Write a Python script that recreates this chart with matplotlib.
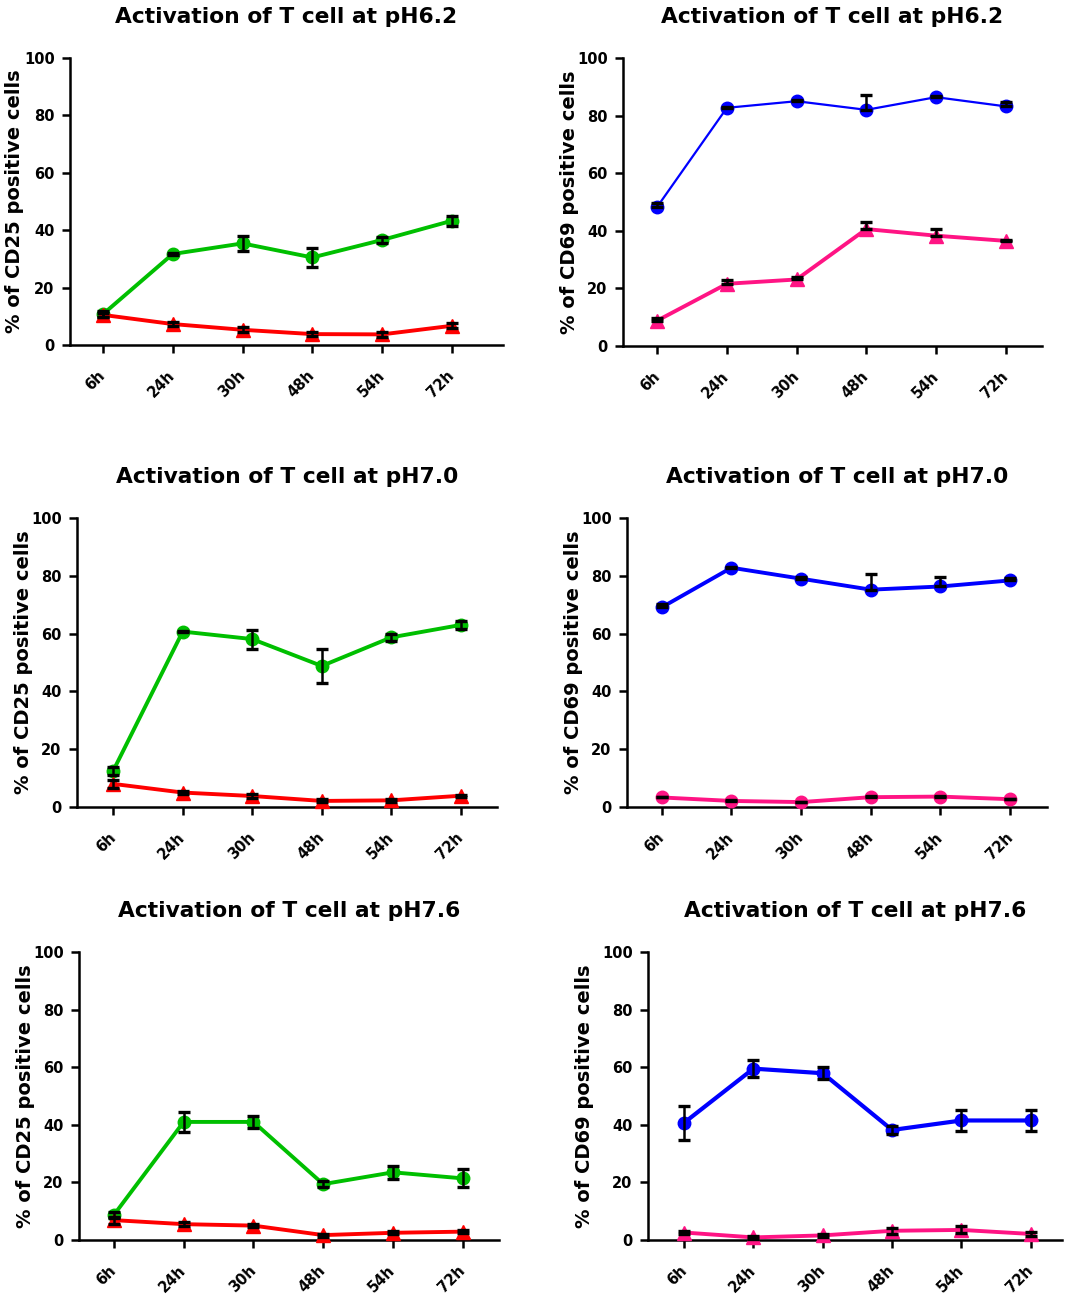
import matplotlib
matplotlib.use("Agg")
import matplotlib.pyplot as plt
from matplotlib.transforms import ScaledTranslation

plt.rcParams['font.family'] = ['DejaVu Sans']
plt.rcParams['font.weight'] = 'bold'

timepoints = ['6h', '24h', '30h', '48h', '54h', '72h']

# pH 6.2
cd25_62_green = [10.7, 31.7, 35.4, 30.5, 36.6, 43.3]
cd25_62_green_err = [1.0, 0.5, 2.5, 3.2, 1.2, 1.8]
cd25_62_red = [10.5, 7.3, 5.3, 3.8, 3.7, 6.7]
cd25_62_red_err = [0.8, 0.8, 0.8, 0.7, 0.8, 0.9]

cd69_62_blue = [48.3, 82.7, 85.0, 82.0, 86.4, 83.2]
cd69_62_blue_err = [1.2, 0.4, 0.3, 5.2, 0.4, 1.4]
cd69_62_pink = [8.8, 21.6, 23.1, 40.6, 38.3, 36.5]
cd69_62_pink_err = [1.0, 1.2, 0.9, 2.4, 2.4, 0.4]

# pH 7.0
cd25_70_green = [12.5, 60.7, 58.1, 48.8, 58.7, 63.0]
cd25_70_green_err = [1.3, 0.3, 3.3, 6.0, 1.2, 1.4]
cd25_70_red = [8.0, 5.0, 3.8, 2.1, 2.3, 3.9]
cd25_70_red_err = [1.3, 0.6, 0.8, 0.5, 0.4, 0.4]

cd69_70_blue = [69.1, 82.8, 79.0, 75.2, 76.3, 78.4]
cd69_70_blue_err = [1.2, 0.3, 0.5, 5.5, 3.2, 0.8]
cd69_70_pink = [3.3, 2.1, 1.7, 3.4, 3.6, 2.7]
cd69_70_pink_err = [0.3, 0.2, 0.2, 0.5, 0.2, 0.2]

# pH 7.6
cd25_76_green = [8.7, 41.0, 41.0, 19.4, 23.5, 21.4]
cd25_76_green_err = [1.0, 3.6, 2.1, 1.1, 2.2, 3.1]
cd25_76_red = [6.9, 5.5, 5.0, 1.7, 2.5, 2.9]
cd25_76_red_err = [1.2, 0.6, 0.6, 0.5, 0.5, 0.6]

cd69_76_blue = [40.7, 59.5, 57.9, 38.2, 41.5, 41.5]
cd69_76_blue_err = [6.0, 2.9, 2.0, 1.3, 3.8, 3.8]
cd69_76_pink = [2.6, 0.9, 1.6, 3.2, 3.5, 2.1]
cd69_76_pink_err = [0.6, 0.4, 0.4, 1.0, 1.2, 0.6]

GREEN = '#00BF00'
RED = '#FF0000'
BLUE = '#0000FF'
PINK = '#FF1484'

W, H = 1081, 1296
fig = plt.figure(figsize=(W / 100, H / 100), dpi=100)

# (title, ylabel, series, axes box in px (left, top, right, bottom), xlim, ylabel offset px, one-sided errors)
panels = [
    ("Activation of T cell at pH6.2", "% of CD25 positive cells",
     [(cd25_62_green, cd25_62_green_err, GREEN, 'o', 2.8),
      (cd25_62_red, cd25_62_red_err, RED, '^', 2.8)],
     (70, 58, 503, 345), (-0.47, 5.73), 46, False),
    ("Activation of T cell at pH6.2", "% of CD69 positive cells",
     [(cd69_62_blue, cd69_62_blue_err, BLUE, 'o', 1.6),
      (cd69_62_pink, cd69_62_pink_err, PINK, '^', 2.8)],
     (623, 58, 1042, 346), (-0.49, 5.52), 44, True),
    ("Activation of T cell at pH7.0", "% of CD25 positive cells",
     [(cd25_70_green, cd25_70_green_err, GREEN, 'o', 2.8),
      (cd25_70_red, cd25_70_red_err, RED, '^', 2.8)],
     (77, 518, 497, 807), (-0.52, 5.52), 44, False),
    ("Activation of T cell at pH7.0", "% of CD69 positive cells",
     [(cd69_70_blue, cd69_70_blue_err, BLUE, 'o', 2.8),
      (cd69_70_pink, cd69_70_pink_err, PINK, 'o', 2.8)],
     (627, 518, 1047, 807), (-0.50, 5.53), 44, True),
    ("Activation of T cell at pH7.6", "% of CD25 positive cells",
     [(cd25_76_green, cd25_76_green_err, GREEN, 'o', 2.8),
      (cd25_76_red, cd25_76_red_err, RED, '^', 2.8)],
     (79, 952, 499, 1240), (-0.50, 5.52), 44, False),
    ("Activation of T cell at pH7.6", "% of CD69 positive cells",
     [(cd69_76_blue, cd69_76_blue_err, BLUE, 'o', 3.0),
      (cd69_76_pink, cd69_76_pink_err, PINK, '^', 2.8)],
     (648, 952, 1062, 1240), (-0.52, 5.45), 54, False),
]

x = list(range(len(timepoints)))

for title, ylab, series, box, xlim, yoff, upper_only in panels:
    l, t, r, b = box
    ax = fig.add_axes([l / W, 1 - b / H, (r - l) / W, (b - t) / H])

    for vals, err, col, mk, lw in series:
        ax.plot(x, vals, color=col, lw=lw, marker=mk,
                markersize=9 if mk == 'o' else 9.5, zorder=3, clip_on=False)
        if upper_only:
            yerr = [[0] * len(err), err]
        else:
            yerr = err
        ax.errorbar(x, vals, yerr=yerr, fmt='none', ecolor='black',
                    elinewidth=1.8, capsize=4.3, capthick=2.4, zorder=4,
                    clip_on=False)

    ax.set_xlim(*xlim)
    ax.set_ylim(0, 100)
    ax.set_yticks([0, 20, 40, 60, 80, 100])
    ax.set_xticks(x)
    ax.set_xticklabels(timepoints, rotation=45, ha='right', va='center',
                       rotation_mode='anchor')
    for lab in ax.get_xticklabels():
        lab.set_transform(lab.get_transform() + ScaledTranslation(0.03, 0, fig.dpi_scale_trans))

    for side in ['top', 'right']:
        ax.spines[side].set_visible(False)
    for side in ['left', 'bottom']:
        ax.spines[side].set_linewidth(1.8)
    ax.tick_params(axis='both', direction='out', length=6, width=1.8,
                   labelsize=10.5)
    ax.tick_params(axis='y', pad=5)
    ax.tick_params(axis='x', pad=14)
    for lab in ax.get_xticklabels() + ax.get_yticklabels():
        lab.set_fontweight('bold')

    ax.set_title(title, fontsize=15.7, fontweight='bold', pad=25)
    ax.set_ylabel(ylab, fontsize=14, fontweight='bold')
    ax.yaxis.set_label_coords(-yoff / (r - l), 0.5)

fig.savefig("out.png", dpi=100)
